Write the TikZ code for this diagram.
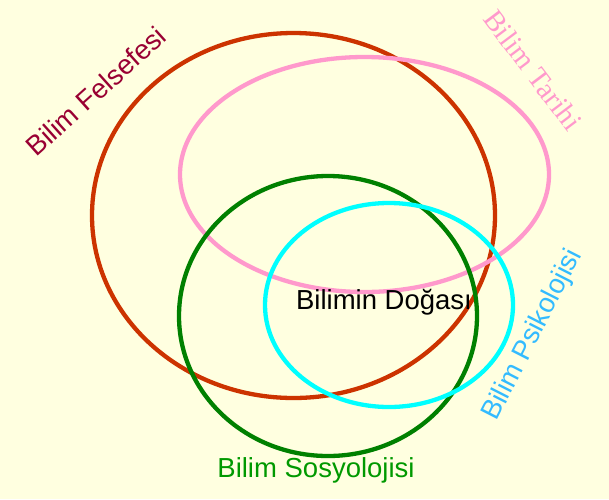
\documentclass[tikz,border=0pt]{standalone}
\usepackage{fontspec}
\setmainfont{Liberation Sans}
\newfontfamily\serifface{Liberation Serif}
\definecolor{bg}{HTML}{FFFFE0}
\definecolor{cred}{HTML}{CC3300}
\definecolor{cpink}{HTML}{FF99CC}
\definecolor{cgreen}{HTML}{008000}
\definecolor{ccyan}{HTML}{00FFFF}
\definecolor{tfel}{HTML}{990033}
\definecolor{tpsi}{HTML}{33BBFF}
\definecolor{tsos}{HTML}{009900}
\tikzset{
  ring/.style={line width=4.3pt},
  lbl/.style={font=\fontsize{27.5}{32}\selectfont, inner sep=0pt}
}
\begin{document}
\begin{tikzpicture}[x=1pt,y=-1pt]
\fill[bg] (0,0) rectangle (609,499);
\useasboundingbox (0,0) rectangle (609,499);
\draw[ring, cred] (293.5,215.5) ellipse [x radius=201.5, y radius=182.5];
\draw[ring, cpink] (364.5,174.5) ellipse [x radius=184.5, y radius=117.5];
\draw[ring, cgreen] (328,316) ellipse [x radius=149, y radius=140];
\draw[ring, ccyan] (389,305) ellipse [x radius=124, y radius=102];
\node[lbl, text=tfel, rotate=42] (fel) at (96,91) {Bilim Felsefesi};
\node[lbl, text=cpink, rotate=-53, font=\serifface\fontsize{29}{34}\selectfont] (tar) at (533,70) {Bilim Tarihi};
\node[lbl, text=tpsi, rotate=63] (psi) at (533,335) {Bilim Psikolojisi};
\node[lbl, text=tsos] (sos) at (316,470) {Bilim Sosyolojisi};
\node[lbl, text=black] (dog) at (384,302) {Bilimin Doğası};
\end{tikzpicture}
\end{document}
